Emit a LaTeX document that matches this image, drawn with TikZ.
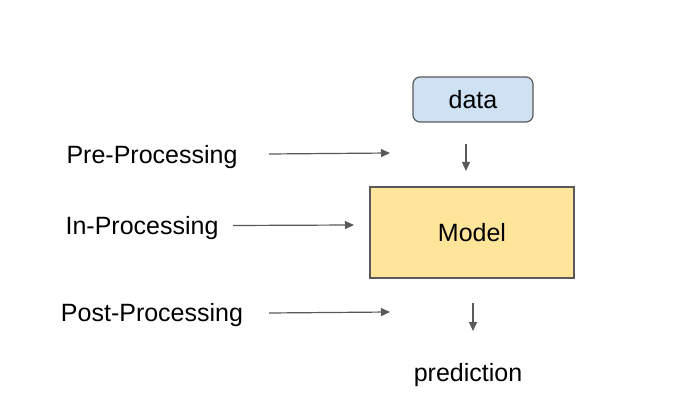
\documentclass[tikz,border=0pt]{standalone}
\usepackage{fontspec}
\setmainfont{Liberation Sans}
\usetikzlibrary{arrows.meta}
\definecolor{linegray}{HTML}{595959}
\definecolor{databox}{HTML}{CFE2F3}
\definecolor{modelbox}{HTML}{FFE599}
\tikzset{
  lbl/.style={font=\fontsize{25}{28}\selectfont, inner sep=0pt, text=black},
  arr/.style={draw=linegray, line width=1.2pt, -{Triangle[length=9pt,width=8pt]}},
  box/.style={draw=linegray, line width=1.2pt, font=\fontsize{25}{28}\selectfont}
}
\begin{document}
\begin{tikzpicture}[x=1pt,y=-1pt]
\useasboundingbox (0,0) rectangle (698,419);
\node[box, fill=databox, rounded corners=7pt, minimum width=120pt, minimum height=45pt] (data) at (473,99.5) {data\hspace{12pt}};
\node[box, fill=modelbox, minimum width=204pt, minimum height=91pt] (model) at (472,232.5) {\raisebox{-3pt}{Model}};
\node[lbl] (pre) at (152,157) {Pre-Processing};
\node[lbl] (in) at (142,228) {In-Processing};
\node[lbl] (post) at (152,315) {Post-Processing};
\node[lbl] (pred) at (468,375) {prediction};
\coordinate (a1s) at (269,154); \coordinate (a1e) at (390,153);
\coordinate (a2s) at (233,225.5); \coordinate (a2e) at (354,225);
\coordinate (a3s) at (269,313); \coordinate (a3e) at (390,312);
\coordinate (d1s) at (466,144); \coordinate (d1e) at (466,171);
\coordinate (d2s) at (473,303); \coordinate (d2e) at (473,331);
\draw[arr] (a1s) -- (a1e);
\draw[arr] (a2s) -- (a2e);
\draw[arr] (a3s) -- (a3e);
\draw[arr] (d1s) -- (d1e);
\draw[arr] (d2s) -- (d2e);
\end{tikzpicture}
\end{document}
